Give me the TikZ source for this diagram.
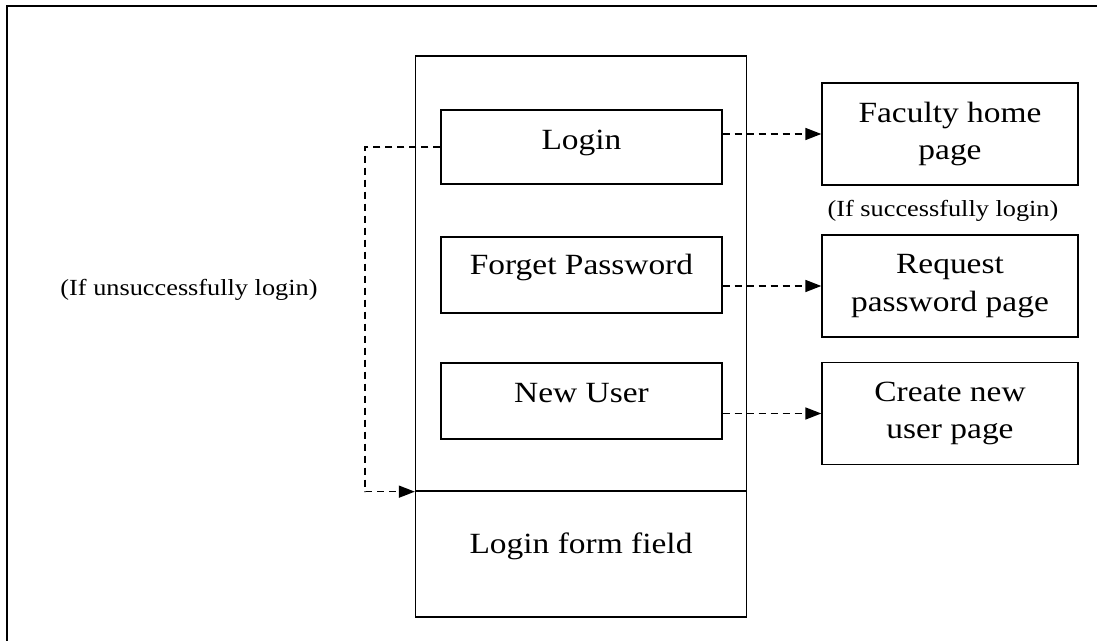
\documentclass[tikz,border=0pt]{standalone}
\usepackage{fontspec}
\setmainfont[FakeStretch=1.14]{Liberation Serif}
\usetikzlibrary{arrows.meta}
\begin{document}
\begin{tikzpicture}[x=0.75pt,y=-0.75pt,
  box/.style={draw, line width=1pt, rectangle, inner sep=0pt},
  big/.style={font=\fontsize{22}{28}\selectfont},
  small/.style={font=\fontsize{17.3}{20}\selectfont, text height=11.4pt, text depth=0pt, inner sep=0pt},
  conn/.style={line width=1.2pt, dash pattern=on 5.5pt off 3.5pt, -{Triangle[length=12pt,width=9pt]}},
  leftbox/.style={box, big, minimum width=210.75pt, text height=14.6pt},
  rightbox/.style={box, big, minimum width=192pt, align=center},
]
\useasboundingbox (0,0) rectangle (1097,641);
% frame
\draw[line width=2pt] (1097,6) -- (7,6) -- (7,641);

% page
\node[box, minimum width=248.25pt, minimum height=326.25pt] (page) at (581,273.5) {};
\node[box, big, minimum width=248.25pt, minimum height=94.5pt, text height=14.6pt, text depth=15.8pt] (form) at (581,554) {Login form field};

\node[leftbox, minimum height=55.5pt, text depth=10.5pt] (login) at (581.5,147) {Login};
\node[leftbox, minimum height=57pt, text depth=15.8pt] (forget) at (581.5,275) {Forget Password};
\node[leftbox, minimum height=57pt, text depth=12.8pt] (newuser) at (581.5,401) {New User};

\node[rightbox, minimum height=76.5pt] (faculty) at (950,134) {Faculty home\\page};
\node[rightbox, minimum height=76.5pt] (request) at (950,286) {Request\\password page};
\node[rightbox, minimum height=76.5pt] (create) at (950,413.5) {Create new\\user page};

\node[small] (succ) at (943,208.5) {(If successfully login)};
\node[small] (unsucc) at (189,288) {(If unsuccessfully login)};

% connectors
\coordinate (loopx) at (365,135);
\draw[conn] (login.west) -- (login.west -| loopx) |- (page.south west);
\draw[conn] (login.east |- faculty.west) -- (faculty.west);
\draw[conn] (forget.east |- request.west) -- (request.west);
\draw[conn] (newuser.east |- create.west) -- (create.west);
\end{tikzpicture}
\end{document}
